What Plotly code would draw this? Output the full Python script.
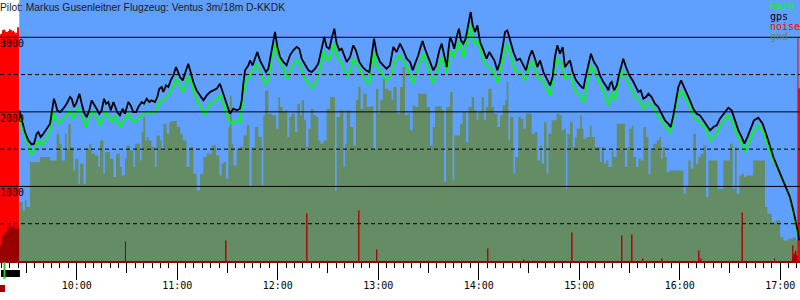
import numpy as np
import pandas as pd
import plotly.graph_objects as go

# ---------------- data (time in minutes after midnight, altitude in m) ----------------
gps_time = [
    565.7, 567.1, 569.1, 571.1, 573.1, 574.5, 576.1, 577.1, 578.5, 580.1, 582.1, 584.1, 585.0, 586.4, 587.4, 588.4, 590.0, 592.0, 594.0, 596.0, 597.0, 598.4, 599.6, 601.6, 603.0, 604.3, 605.9, 607.5, 608.9, 610.3, 611.9, 613.5, 614.9, 616.3, 617.5, 618.9, 620.3, 621.9, 622.9, 624.2, 625.8, 627.4, 628.8, 630.8, 632.2, 633.8, 635.4, 636.8, 638.8, 640.2, 641.8, 643.4, 644.7, 646.7, 648.1, 649.3, 650.7, 651.7, 653.3, 654.7, 656.1, 657.7, 659.3, 660.7, 661.7, 663.3, 664.6, 666.6, 668.0, 669.6, 671.6,
    673.6, 675.6, 677.6, 679.6, 681.6, 683.6, 685.5, 686.5, 688.5, 690.5, 691.5, 693.5, 695.5, 697.5, 698.5, 699.5, 700.5, 702.5, 703.5, 705.0, 706.4, 707.8, 709.4, 711.4, 713.0, 714.4, 715.8, 717.0, 718.4, 719.8, 721.4, 723.4, 725.3, 727.3, 729.3, 731.3, 732.9, 734.3, 736.3, 738.3, 740.3, 742.3, 744.2, 745.6, 746.8, 747.8, 749.2, 750.8, 752.2, 753.8, 755.2, 756.8, 758.2, 759.6, 761.2, 763.2, 765.1, 766.7, 768.7, 770.7, 772.7, 774.7, 776.1, 777.5, 779.1, 781.1, 783.0, 785.0, 787.0, 789.0, 791.0,
    793.0, 795.0, 797.0, 799.0, 800.6, 802.0, 803.9, 805.3, 806.5, 807.9, 809.9, 811.9, 812.9, 814.5, 816.5, 817.9, 819.3, 820.9, 821.9, 822.9, 824.2, 825.4, 826.8, 828.2, 829.4, 830.8, 832.2, 833.8, 835.2, 836.4, 837.8, 839.2, 840.8, 842.8, 844.7, 846.3, 847.7, 849.3, 851.1, 852.7, 854.3, 855.7, 857.1, 858.7, 860.7, 862.7, 864.6, 866.2, 868.2, 870.2, 871.8, 873.6, 875.0, 876.6, 878.6, 880.6, 882.6, 884.1, 885.5, 886.9, 888.5, 890.1, 891.5, 892.9, 894.5, 896.1, 898.1, 900.5, 902.5, 903.4, 905.4, 907.0, 908.8, 910.8,
    912.4, 914.4, 916.4, 917.4, 918.4, 919.4, 920.8, 922.4, 923.9, 925.3, 926.3, 927.9, 929.9, 931.9, 933.9, 935.3, 936.7, 938.3, 939.9, 941.3, 943.2, 945.2, 947.2, 949.2, 951.2, 953.2, 954.6, 956.2, 957.8, 959.2, 960.8, 962.2, 964.1, 966.1, 968.1, 970.1, 972.1, 974.1, 976.1, 978.1, 980.1, 982.1, 984.0, 986.4, 989.0, 991.0, 993.0, 995.0, 997.0, 998.6, 1000.4, 1002.3, 1004.3, 1006.9, 1009.5, 1011.9, 1013.9, 1015.9, 1017.9, 1019.9, 1021.9, 1023.8, 1025.8, 1027.8, 1029.2, 1030.4, 1031.2,
]
gps_alt = [
    2020, 1886, 1729, 1617, 1564, 1573, 1707, 1729, 1662, 1707, 1774, 1841, 1975, 2176, 2109, 2020, 1997, 2042, 2109, 2199, 2176, 2065, 2109, 2244, 2109, 1997, 1930, 2020, 2154, 2109, 2042, 1975, 2020, 2176, 2109, 2132, 2020, 2132, 2065, 1997, 1953, 2042, 1975, 2132, 2087, 1997, 1997, 2065, 2132, 2109, 2176, 2132, 2154, 2132, 2199, 2311, 2333, 2266, 2355, 2333, 2422, 2490, 2601, 2534, 2467, 2422, 2512, 2646, 2534, 2400, 2288,
    2221, 2154, 2221, 2266, 2288, 2311, 2378, 2311, 2154, 2020, 1975, 2042, 2020, 2042, 2154, 2378, 2557, 2624, 2691, 2624, 2713, 2803, 2691, 2601, 2534, 2579, 2736, 2915, 3071, 2870, 2736, 2669, 2624, 2758, 2825, 2870, 2847, 2713, 2624, 2557, 2534, 2579, 2646, 2780, 2937, 3004, 2870, 2847, 2982, 3116, 2915, 2825, 2847, 2758, 2669, 2736, 2892, 2825, 2669, 2601, 2557, 2534, 2736, 2982, 2780, 2669, 2624, 2579, 2624, 2870, 2803,
    2915, 2825, 2713, 2669, 2557, 2646, 2758, 2870, 2950, 2847, 2736, 2624, 2557, 2624, 2825, 2915, 2780, 2601, 2825, 3004, 2937, 2847, 3004, 3116, 2959, 2915, 2982, 3183, 3339, 3161, 3071, 3161, 2937, 2825, 2713, 2803, 2758, 2691, 2557, 2669, 2870, 3071, 3093, 2959, 2803, 2691, 2713, 2646, 2557, 2736, 2825, 2713, 2601, 2691, 2534, 2445, 2355, 2467, 2736, 2892, 2780, 2870, 2601, 2646, 2691, 2534, 2422, 2355, 2311, 2422, 2646, 2780, 2669, 2601,
    2490, 2400, 2333, 2288, 2378, 2400, 2288, 2355, 2512, 2624, 2713, 2601, 2490, 2422, 2333, 2266, 2288, 2176, 2199, 2244, 2199, 2109, 2065, 1975, 1886, 1841, 1796, 1953, 2176, 2333, 2422, 2355, 2266, 2154, 2042, 1975, 1953, 1886, 1819, 1752, 1796, 1819, 1908, 1975, 2056, 2020, 1886, 1752, 1662, 1573, 1662, 1774, 1886, 1922, 1841, 1684, 1528, 1394, 1282, 1170, 1058, 969, 857, 678, 544, 410, 275,
]

baro_time = [
    565.7, 567.1, 570.1, 572.5, 574.1, 576.1, 577.7, 579.1, 581.1, 583.7, 586.0, 587.0, 589.0, 591.0, 594.0, 596.0, 598.0, 601.0, 603.0, 605.5, 607.9, 609.5, 611.9, 613.9, 616.9, 618.9, 620.9, 622.9, 625.8, 628.2, 630.8, 633.8, 636.8, 639.8, 642.8, 645.7, 647.7, 649.3, 651.7, 653.7, 656.1, 657.7, 659.7, 661.7, 663.6, 666.6, 668.6, 671.6,
    673.6, 676.6, 678.6, 681.6, 685.5, 687.9, 690.5, 692.5, 695.5, 697.5, 699.1, 700.5, 703.5, 705.4, 707.4, 709.4, 712.4, 714.4, 716.4, 718.4, 720.4, 723.4, 725.7, 728.3, 731.3, 733.3, 735.7, 738.3, 740.9, 743.3, 745.6, 747.6, 749.6, 751.2, 753.6, 755.6, 758.2, 761.2, 763.2, 765.1, 767.1, 770.1, 773.1, 774.7, 777.1, 779.1, 782.1, 785.0, 788.0, 790.0,
    793.0, 795.4, 798.0, 800.6, 803.0, 804.9, 806.9, 808.9, 812.5, 814.9, 817.9, 819.9, 820.9, 822.9, 824.8, 826.8, 828.4, 830.8, 832.8, 835.2, 837.2, 839.2, 841.8, 844.3, 847.7, 851.3, 853.7, 856.7, 858.7, 861.7, 864.6, 867.6, 869.6, 872.2, 875.0, 877.6, 880.6, 882.6, 884.9, 886.9, 889.5, 891.5, 894.5, 897.5, 900.5, 902.8, 905.4, 907.0, 909.4,
    912.4, 914.4, 917.4, 919.4, 921.4, 923.3, 925.9, 928.3, 931.3, 933.3, 935.9, 938.3, 941.3, 944.2, 946.6, 949.2, 952.2, 954.6, 956.6, 958.6, 960.6, 963.1, 966.1, 969.1, 972.1, 975.7, 978.1, 981.1, 984.0, 986.0, 988.6, 991.0, 994.0, 997.0, 999.0, 1001.0, 1003.9, 1006.9, 1009.9, 1012.9, 1015.9, 1018.9, 1021.5, 1023.8, 1026.2, 1028.2, 1029.8, 1030.8,
]
baro_alt = [
    1953, 1819, 1617, 1429, 1461, 1573, 1617, 1550, 1617, 1707, 1997, 1930, 1841, 1886, 1953, 2020, 1908, 2065, 1953, 1796, 1953, 2020, 1930, 1819, 1997, 1953, 1863, 1953, 1796, 1886, 1975, 1863, 1908, 1975, 1997, 1975, 2020, 2132, 2154, 2199, 2266, 2355, 2445, 2333, 2266, 2490, 2378, 2154,
    2087, 1953, 2087, 2132, 2221, 2087, 1908, 1841, 1886, 1863, 2199, 2400, 2490, 2557, 2646, 2534, 2378, 2422, 2713, 2915, 2713, 2579, 2445, 2601, 2691, 2646, 2467, 2378, 2324, 2422, 2601, 2825, 2691, 2713, 2915, 2736, 2646, 2467, 2534, 2713, 2646, 2512, 2400, 2378, 2803, 2624, 2512, 2422, 2490, 2691,
    2758, 2669, 2557, 2378, 2557, 2669, 2780, 2669, 2378, 2512, 2736, 2624, 2512, 2825, 2736, 2847, 2937, 2736, 2915, 3161, 2915, 2959, 2758, 2624, 2579, 2400, 2646, 2915, 2780, 2557, 2534, 2422, 2579, 2691, 2467, 2445, 2311, 2221, 2512, 2713, 2646, 2445, 2512, 2288, 2221, 2132, 2445, 2624, 2512,
    2378, 2288, 2087, 2266, 2154, 2400, 2557, 2445, 2288, 2199, 2154, 2042, 2132, 2065, 1953, 1886, 1774, 1729, 1953, 2176, 2288, 2199, 2065, 1908, 1863, 1774, 1617, 1684, 1796, 1863, 1953, 1886, 1707, 1573, 1461, 1573, 1729, 1819, 1729, 1528, 1349, 1215, 1081, 969, 812, 611, 432, 298,
]

# ground elevation below the track (step start times)
gnd_time = [
    554.2, 555.0, 556.6, 558.0, 559.4, 560.6, 561.8, 563.0, 564.0, 565.0,
    565.7, 567.7, 569.1, 570.1, 572.1, 578.1, 584.1, 588.0, 589.6, 591.0, 593.0, 594.0, 595.0, 596.4, 598.0, 599.0, 601.0, 602.0, 604.0, 605.5, 607.5, 608.9, 610.9, 612.9, 613.9, 615.9, 616.9, 619.9, 621.9, 623.5, 625.8, 626.8, 628.8, 629.8, 631.8, 633.8, 634.8, 637.8, 638.8, 639.8, 640.8, 641.8, 642.8, 644.7, 646.7, 647.7, 649.7, 650.7, 651.7, 653.7, 655.3, 656.7, 659.7, 661.7, 663.3, 665.6, 667.2, 669.6, 671.6,
    673.6, 675.6, 677.6, 680.6, 683.2, 685.1, 686.5, 687.9, 689.1, 690.5, 691.5, 692.5, 693.5, 695.5, 697.5, 699.5, 701.5, 703.1, 704.4, 706.4, 708.4, 710.4, 711.4, 712.4, 714.4, 716.4, 719.0, 720.4, 721.4, 723.0, 724.3, 725.7, 726.9, 728.3, 730.3, 731.7, 733.3, 734.3, 735.7, 736.9, 738.3, 739.7, 741.3, 742.9, 744.2, 745.6, 747.2, 749.2, 751.2, 754.2, 755.2, 757.2, 759.2, 760.2, 761.2, 763.2, 765.1, 766.7, 768.1, 769.5, 771.1, 773.1, 775.1, 777.1, 778.7, 780.1, 781.1, 782.7, 784.0, 786.0, 788.0, 789.0, 791.0,
    793.0, 794.6, 796.0, 797.4, 799.0, 800.6, 802.0, 803.9, 808.9, 810.9, 812.5, 813.9, 814.9, 817.9, 819.3, 820.5, 822.9, 824.4, 825.4, 828.8, 830.4, 832.4, 833.8, 835.8, 837.2, 838.8, 839.8, 841.8, 843.1, 844.3, 845.7, 847.7, 849.1, 851.1, 852.7, 854.3, 855.7, 856.7, 857.7, 858.7, 860.7, 861.7, 863.6, 865.0, 866.6, 868.2, 871.6, 873.6, 875.0, 876.6, 877.6, 879.0, 880.6, 881.6, 883.5, 886.5, 888.1, 889.5, 890.9, 892.1, 892.9, 894.5, 896.1, 897.5, 898.5, 900.5, 901.5, 902.5, 904.4, 906.4, 907.4, 909.4,
    912.4, 913.4, 914.8, 916.0, 917.4, 919.4, 920.4, 922.4, 927.3, 928.7, 929.9, 931.3, 932.3, 933.9, 935.3, 936.7, 938.3, 939.9, 941.3, 942.6, 944.2, 946.2, 947.8, 948.8, 949.8, 951.2, 952.2, 953.8, 962.2, 963.7, 965.1, 966.5, 968.1, 969.7, 971.1, 972.5, 974.1, 975.7, 977.1, 982.5, 986.0, 990.0, 991.6, 993.0, 994.0, 995.6, 997.0, 998.4, 999.6, 1003.9, 1010.9, 1012.3, 1014.9, 1017.5, 1019.9, 1021.9, 1024.8, 1027.4, 1029.4, 1030.2,
]
gnd_alt = [
    210, 330, 380, 450, 480, 460, 470, 430, 470, 450,
    790, 678, 812, 723, 1327, 1394, 1349, 1707, 1573, 1349, 1707, 1505, 1841, 1528, 1215, 1371, 1036, 1304, 1036, 1505, 1573, 1438, 1416, 1260, 1617, 1170, 1461, 1371, 1125, 1438, 1260, 1148, 1371, 1550, 1483, 1260, 1573, 1349, 1729, 1930, 1617, 1662, 1617, 1528, 1260, 1684, 1617, 1483, 1841, 1707, 1863, 1877, 1796, 1707, 1617, 1260, 1528, 1170, 946,
    1170, 1394, 1438, 1550, 1416, 1148, 1304, 1327, 1103, 1796, 2221, 1573, 1282, 1505, 1528, 1684, 1819, 991, 1528, 1796, 1662, 1014, 1953, 2288, 1975, 1953, 1774, 2199, 2065, 1997, 2020, 1662, 1930, 1975, 1729, 2109, 1953, 2154, 1886, 1528, 1774, 2042, 1953, 1930, 1617, 1573, 1617, 2042, 2199, 946, 1930, 2020, 1260, 1573, 2020, 1796, 1550, 2154, 2333, 2042, 2244, 2065, 2074, 1505, 2311, 1975, 2154, 2445, 2311, 2288, 2154, 2333, 1975,
    2333, 2601, 1953, 1975, 1752, 2087, 2065, 2244, 2065, 1550, 1796, 2065, 2074, 2020, 1058, 2065, 2266, 1081, 1684, 1841, 1997, 1595, 2065, 2199, 2020, 1886, 1997, 2199, 1886, 2065, 2311, 2065, 1975, 1796, 1953, 2087, 2154, 2400, 1617, 1930, 1170, 1394, 1930, 1908, 1774, 1975, 1707, 1729, 1349, 1550, 1304, 1863, 1170, 1707, 1886, 1975, 1953, 1752, 1774, 969, 1707, 1863, 1528, 1662, 1774, 1953, 1774, 1640, 1662, 1819, 1662, 1528,
    1327, 1528, 1304, 1349, 1260, 1483, 1394, 1841, 1260, 1528, 1774, 1819, 1394, 1260, 1371, 1349, 1796, 1662, 1170, 1483, 1573, 1617, 1662, 1371, 1528, 1394, 1192, 1215, 902, 991, 1349, 1237, 1707, 1304, 1394, 1438, 1550, 857, 1349, 969, 1349, 1573, 969, 1528, 902, 1148, 1170, 1125, 1148, 1349, 723, 633, 521, 544, 320, 275, 298, 320, 275, 0,
]

# noise level samples (each sample lasts noise_step minutes)
noise_time = [554.2, 554.8, 555.4, 556.0, 556.6, 557.2, 557.8, 558.4, 559.0, 559.6, 560.2, 560.8,
              561.4, 562.0, 562.6, 563.2, 563.8, 564.4, 565.0,
              628.8, 688.7, 737.1, 768.1, 778.8, 845.1, 866.6, 895.3, 925.1, 931.1, 937.6, 949.0,
              971.1, 972.3, 997.0, 1016.3, 1027.2, 1028.2, 1029.0, 1029.6, 1030.3, 1030.9, 1031.5]
noise_val = [3040, 3050, 3095, 3100, 3105, 3080, 3070, 3075, 3085, 3110, 3100, 3095,
             3080, 3090, 3070, 3050, 3060, 3135, 3135,
             262, 275, 637, 678, 154, 168, 20, 382, 342, 356, 34, 34,
             141, 34, 651, 34, 208, 100, 141, 74, 2990, 2315, 2315]
noise_step = 0.6

grid_solid = [1000, 2000, 3000]
grid_dashed = [500, 1500, 2500]
axis_labels = [1000, 2000, 3000]

release_time = 565.7           # start of free flight
tow_period = [554.8, 566.1]    # launch bar below axis
release_mark = [556.3, 557.5]
engine_mark = [554.2, 557.2]
time_range = [554.2, 1031.8]

title_text = "Pilot: Markus Gusenleitner Flugzeug: Ventus 3m/18m D-KKDK"
legend_items = [("baro", "#00ff00"), ("gps", "#000000"), ("noise", "#ff0000"), ("gnd", "#688a68")]

assert len(gps_time) == len(gps_alt)
assert len(baro_time) == len(baro_alt)
assert len(gnd_time) == len(gnd_alt)
assert len(noise_time) == len(noise_val)

# ---------------- helpers ----------------
BASE = pd.Timestamp("2021-06-20")


def T(m):
    return BASE + pd.to_timedelta(np.asarray(m, dtype=float), unit="min")


def iso(m):
    return (BASE + pd.Timedelta(minutes=m)).isoformat()


BLUE = "#5f9ffd"
GND = "#658d65"
RED = "#ff0000"
DARKRED = "#990000"

# ground as step function
g_t = np.array(gnd_time + [time_range[1]])
g_v = np.array(gnd_alt + [gnd_alt[-1]])

# ground value at noise sample times
nt = np.array(noise_time)
nv = np.array(noise_val, dtype=float)
idx = np.searchsorted(np.array(gnd_time), nt, side="right") - 1
g_at = np.where(idx >= 0, np.array(gnd_alt)[np.clip(idx, 0, None)], 0)
nv_dark = np.minimum(nv, g_at)


def bars_polygon(times, vals, step):
    xs, ys = [], []
    for t, v in zip(times, vals):
        xs += [t, t, t + step, t + step]
        ys += [0, v, v, 0]
    return xs, ys


nx, ny = bars_polygon(nt, nv, noise_step)
dx, dy = bars_polygon(nt, nv_dark, noise_step)

fig = go.Figure()
fig.add_trace(go.Scatter(x=T(g_t), y=g_v, mode="lines", line=dict(width=0, shape="hv"),
                         fill="tozeroy", fillcolor=GND, hoverinfo="skip"))
fig.add_trace(go.Scatter(x=T(nx), y=ny, mode="lines", line=dict(width=0),
                         fill="toself", fillcolor=RED, hoverinfo="skip"))
fig.add_trace(go.Scatter(x=T(dx), y=dy, mode="lines", line=dict(width=0),
                         fill="toself", fillcolor=DARKRED, hoverinfo="skip"))
fig.add_trace(go.Scatter(x=T(baro_time), y=baro_alt, mode="lines",
                         line=dict(color="#00ff00", width=1.8)))
fig.add_trace(go.Scatter(x=T(gps_time), y=gps_alt, mode="lines",
                         line=dict(color="#000000", width=1.8)))
# empty trace to carry the half-hour tick axis
fig.add_trace(go.Scatter(x=[], y=[], xaxis="x2", yaxis="y"))

shapes = []
shapes.append(dict(type="rect", xref="x", yref="paper", x0=iso(release_time), x1=iso(time_range[1]),
                   y0=0, y1=1, fillcolor=BLUE, line=dict(width=0), layer="below"))
for v in grid_solid:
    shapes.append(dict(type="line", xref="paper", yref="y", x0=0, x1=1, y0=v, y1=v,
                       line=dict(color="black", width=1), layer="above"))
for v in grid_dashed:
    shapes.append(dict(type="line", xref="paper", yref="y", x0=0, x1=1, y0=v, y1=v,
                       line=dict(color="black", width=1, dash="4px,3px"), layer="above"))
PH = 261.0  # plot height in px, for below-axis markers
shapes.append(dict(type="rect", xref="x", yref="paper", x0=iso(tow_period[0]), x1=iso(tow_period[1]),
                   y0=-(270 - PH) / PH, y1=-(277 - PH) / PH, fillcolor="black", line=dict(width=0)))
shapes.append(dict(type="rect", xref="x", yref="paper", x0=iso(release_mark[0]), x1=iso(release_mark[1]),
                   y0=-(262 - PH) / PH, y1=-(279 - PH) / PH, fillcolor="#22cc22", line=dict(width=0)))
shapes.append(dict(type="rect", xref="x", yref="paper", x0=iso(engine_mark[0]), x1=iso(engine_mark[1]),
                   y0=-(285 - PH) / PH, y1=-(292 - PH) / PH, fillcolor=DARKRED, line=dict(width=0)))

mono = dict(family="DejaVu Sans Mono", size=10, color="black")
ann = [dict(text=title_text, xref="paper", yref="paper", x=0, y=1, xanchor="left", yanchor="top",
            xshift=-2, showarrow=False, font=dict(family="Liberation Sans", size=10.3, color="#1a1a1a"))]
for v in axis_labels:
    ann.append(dict(text=str(v), xref="paper", yref="y", x=0, y=v, xanchor="left", yanchor="top",
                    xshift=-2, yshift=1, showarrow=False, font=mono))
centers = [6.5, 16.5, 26.5, 36.5]
for (name, col), c in zip(legend_items, centers):
    ann.append(dict(text=name, xref="paper", yref="paper", x=768 / 800, y=1 - c / PH,
                    xanchor="left", yanchor="middle", showarrow=False,
                    font=dict(family="DejaVu Sans Mono", size=10, color=col)))

xr = [iso(time_range[0]), iso(time_range[1])]
fig.update_layout(
    width=800, height=300,
    margin=dict(l=0, r=0, t=0, b=39, pad=0),
    paper_bgcolor="white", plot_bgcolor="white",
    showlegend=False,
    shapes=shapes, annotations=ann,
    xaxis=dict(type="date", range=xr, showgrid=False, zeroline=False,
               showline=True, linecolor=DARKRED, linewidth=2,
               ticks="outside", ticklen=17, tickwidth=1, tickcolor="black",
               tick0=BASE.isoformat(), dtick=3600000, tickformat="%H:%M", tickfont=mono,
               ticklabelstandoff=-3,
               minor=dict(ticks="outside", ticklen=5, tickwidth=1, tickcolor="black",
                          dtick=300000, tick0=BASE.isoformat(), showgrid=False),
               fixedrange=True),
    xaxis2=dict(type="date", range=xr, overlaying="x", anchor="y", side="bottom",
                showgrid=False, zeroline=False, showline=False,
                ticks="outside", ticklen=11, tickwidth=1, tickcolor="black",
                tick0=BASE.isoformat(), dtick=1800000, showticklabels=False, fixedrange=True),
    yaxis=dict(range=[0, 3500], visible=False, showgrid=False, zeroline=False, fixedrange=True),
)

fig.write_html("out.html")
